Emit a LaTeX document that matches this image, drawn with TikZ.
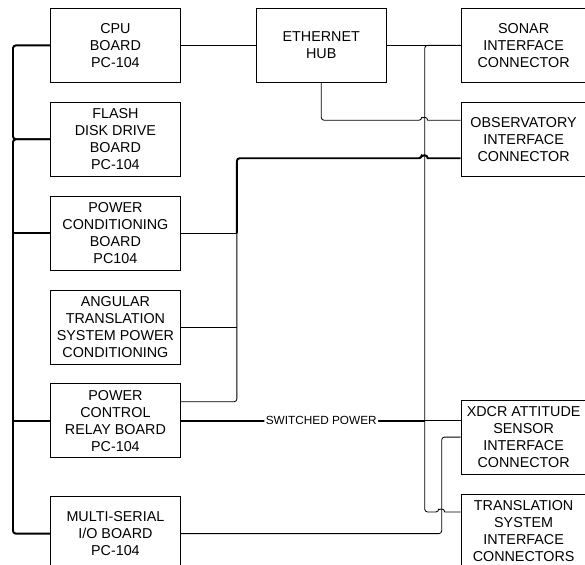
\documentclass[tikz,border=0pt]{standalone}
\usepackage{fontspec}
\setmainfont{Liberation Sans}
\usetikzlibrary{positioning,calc}

\tikzset{
  board/.style={draw,line width=0.6pt,minimum width=3.25cm,minimum height=1.85cm,align=center,inner sep=1pt,font=\fontsize{10.2}{12.1}\selectfont},
  plug/.style={board,minimum width=3.125cm},
  wire/.style={line width=0.6pt,rounded corners=2pt},
  bus/.style={line width=1.4pt,rounded corners=2pt},
}

\begin{document}
\begin{tikzpicture}[node distance=0.475cm and 1.85cm]
        \useasboundingbox (0,0) rectangle (14.625,-14.125);
        \clip (0,0) rectangle (14.625,-14.125);
        % left column
        \node[board,anchor=north west] (cpu) at (1.25,-0.2) {CPU\\BOARD\\PC-104};
        \node[board,below=of cpu] (flash) {FLASH\\DISK DRIVE\\BOARD\\PC-104};
        \node[board,below=of flash] (pcond) {POWER\\CONDITIONING\\BOARD\\PC104};
        \node[board,below=of pcond] (ang) {ANGULAR\\TRANSLATION\\SYSTEM POWER\\CONDITIONING};
        \node[board,below=of ang] (pctrl) {POWER\\CONTROL\\RELAY BOARD\\PC-104};
        \node[board,below=0.95cm of pctrl] (multi) {MULTI-SERIAL\\I/O BOARD\\PC-104};
        % hub and connectors
        \node[board,right=1.875cm of cpu] (hub) {ETHERNET\\HUB};
        \node[plug,right=of hub] (sonar) {SONAR\\INTERFACE\\CONNECTOR};
        \node[plug,below=of sonar] (obs) {OBSERVATORY\\INTERFACE\\CONNECTOR};
        \node[plug,below=5.575cm of obs] (xdcr) {XDCR ATTITUDE\\SENSOR\\INTERFACE\\CONNECTOR};
        \node[plug,below=of xdcr] (trans) {TRANSLATION\\SYSTEM\\INTERFACE\\CONNECTORS};

        \coordinate (vx) at ([xshift=-0.9cm]sonar.west);
        \coordinate (mx) at ([xshift=-0.475cm]xdcr.west);
        \coordinate (px) at ([xshift=1.4cm]pcond.east);
        \coordinate (hubin) at ([yshift=0.475cm]obs.west);
        \coordinate (pwrin) at ([yshift=-0.475cm]obs.west);
        \coordinate (trin) at ([yshift=0.475cm]trans.west);
        \coordinate (relay) at ([yshift=0.475cm]pctrl.east);

        % stack bus
        \draw[bus] (cpu.west) -| ([xshift=-0.925cm]flash.west) -- (flash.west);
        \draw[bus] (flash.west) -| ([xshift=-0.925cm]multi.west) -- (multi.west);
        \draw[bus] (pcond.west) -- ++(-0.925,0);
        \draw[bus] (pctrl.west) -- ++(-0.925,0);

        % network
        \draw[wire] (cpu) -- (hub);
        \draw[wire] (hub) -- (sonar);
        \draw[wire] (hub.south) |- ($(vx |- hubin)-(0.075,0)$) [sharp corners] arc[start angle=180,end angle=0,radius=0.075] -- (hubin);

        % conditioned power
        \draw[bus] (px) |- ($(vx |- pwrin)-(0.075,0)$) [sharp corners] arc[start angle=180,end angle=0,radius=0.075] -- (pwrin);
        \draw[wire] (pcond.east) -- (px);
        \draw[wire] (ang.east) -- (ang.east -| px);
        \draw[wire] (relay) -| (px);

        % switched power
        \draw[bus] (pctrl.east) -- node[pos=0.576,fill=white,inner sep=1pt,font=\fontsize{8.4}{10}\selectfont] {SWITCHED POWER} (vx |- pctrl.east);
        \draw[wire] (vx |- pctrl.east) -- (xdcr.west |- pctrl.east);
        \draw[wire] (sonar.west) -| (vx |- trin) -- ($(mx |- trin)-(0.075,0)$) [sharp corners] arc[start angle=180,end angle=0,radius=0.075] -- (trin);
        \draw[wire] (multi.east) -| (mx |- xdcr.west) -- (xdcr.west);
    \end{tikzpicture}
\end{document}
